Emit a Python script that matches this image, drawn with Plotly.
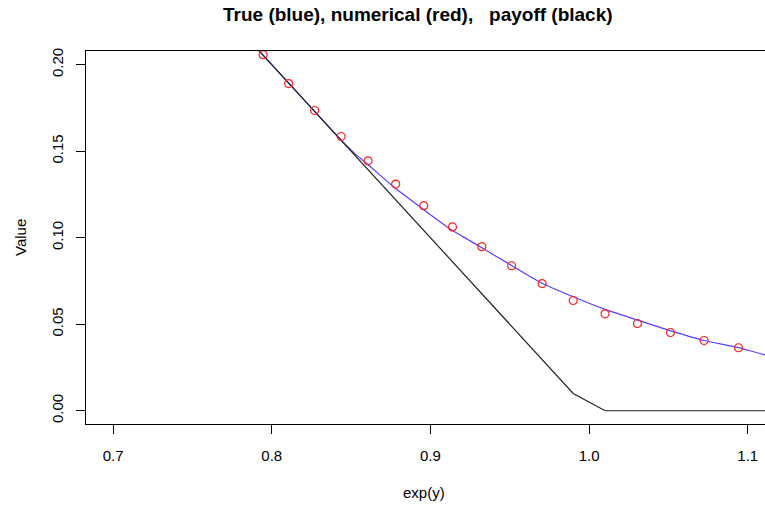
import plotly.graph_objects as go

# numerical solution (red circles)
num_x = [0.7945, 0.8106, 0.8270, 0.8437, 0.8607, 0.8781, 0.8958, 0.9139, 0.9324,
         0.9512, 0.9704, 0.9900, 1.0101, 1.0305, 1.0513, 1.0725, 1.0942]
num_v = [0.2058, 0.1891, 0.1735, 0.1585, 0.1444, 0.1310, 0.1185, 0.1062, 0.0948,
         0.0838, 0.0735, 0.0637, 0.0560, 0.0504, 0.0452, 0.0406, 0.0364]

# true value (blue curve)
true_x = [0.7600, 0.7788, 0.7945, 0.8106, 0.8270, 0.8400, 0.8470, 0.8530, 0.8599,
          0.8767, 0.8946, 0.9135, 0.9319, 0.9507, 0.9698, 0.9897, 1.0096, 1.0302,
          1.0510, 1.0725, 1.0941, 1.1109, 1.1200]
true_v = [0.2400, 0.2212, 0.2055, 0.1894, 0.1730, 0.1600, 0.1534, 0.1480, 0.1429,
          0.1294, 0.1170, 0.1044, 0.0945, 0.0842, 0.0740, 0.0660, 0.0587, 0.0525,
          0.0463, 0.0406, 0.0365, 0.0323, 0.0305]

# payoff (black line)
pay_x = [0.7600, 0.7788, 0.7945, 0.8106, 0.8270, 0.8437, 0.8607, 0.8781, 0.8958,
         0.9139, 0.9324, 0.9512, 0.9704, 0.9900, 1.0101, 1.0305, 1.0513, 1.0725,
         1.0942, 1.1163]
pay_v = [0.2400, 0.2212, 0.2055, 0.1894, 0.1730, 0.1563, 0.1393, 0.1219, 0.1042,
         0.0861, 0.0676, 0.0488, 0.0296, 0.0100, 0.0, 0.0, 0.0, 0.0, 0.0, 0.0]

x_ticks = [0.7, 0.8, 0.9, 1.0, 1.1]
x_tick_text = ["0.7", "0.8", "0.9", "1.0", "1.1"]
y_ticks = [0.0, 0.05, 0.10, 0.15, 0.20]
y_tick_text = ["0.00", "0.05", "0.10", "0.15", "0.20"]

FONT = "Liberation Sans, Arial, Helvetica, sans-serif"
ML, MR, MT, MB = 86, 0, 51, 84
W, H = 765, 508


def px_to_paper(px, py):
    return (px - ML) / (W - ML - MR), ((H - py) - MB) / (H - MT - MB)


fig = go.Figure()
fig.add_trace(go.Scatter(x=true_x, y=true_v, mode="lines",
                         line=dict(color="#5a3cff", width=1.2, shape="spline", smoothing=0.6),
                         showlegend=False))
fig.add_trace(go.Scatter(x=pay_x, y=pay_v, mode="lines",
                         line=dict(color="#222222", width=1.2),
                         showlegend=False))
fig.add_trace(go.Scatter(x=num_x, y=num_v, mode="markers",
                         marker=dict(symbol="circle-open", size=8, color="#ff2020",
                                     line=dict(width=1.2, color="#ff2020")),
                         showlegend=False))

tx, ty = px_to_paper(418, 15)
xx, xy = px_to_paper(424, 493)
vx, vy = px_to_paper(20, 238)

fig.update_layout(
    width=W, height=H,
    margin=dict(l=ML, r=MR, t=MT, b=MB),
    paper_bgcolor="white", plot_bgcolor="white",
    font=dict(family=FONT, size=15, color="black"),
    xaxis=dict(range=[0.6829, 1.1109], tickvals=x_ticks, ticktext=x_tick_text,
               showgrid=False, zeroline=False, showline=True, linecolor="black",
               linewidth=1, mirror=True, ticks="outside", ticklen=9,
               tickcolor="black", tickfont=dict(size=15, family=FONT),
               ticklabelstandoff=9),
    yaxis=dict(range=[-0.00767, 0.2079], tickvals=y_ticks, ticktext=y_tick_text,
               showgrid=False, zeroline=False, showline=True, linecolor="black",
               linewidth=1, mirror=False, ticks="outside", ticklen=9,
               tickcolor="black", tickangle=-90, tickfont=dict(size=15, family=FONT),
               ticklabelstandoff=7),
    annotations=[
        dict(text="<b>True (blue), numerical (red),   payoff (black)</b>",
             x=tx, y=ty, xref="paper", yref="paper", showarrow=False,
             xanchor="center", yanchor="middle",
             font=dict(size=19, family=FONT, color="black")),
        dict(text="exp(y)", x=xx, y=xy, xref="paper", yref="paper", showarrow=False,
             xanchor="center", yanchor="middle",
             font=dict(size=15, family=FONT, color="black")),
        dict(text="Value", x=vx, y=vy, xref="paper", yref="paper", showarrow=False,
             xanchor="center", yanchor="middle", textangle=-90,
             font=dict(size=15, family=FONT, color="black")),
    ],
)

fig.write_html("out.html")
